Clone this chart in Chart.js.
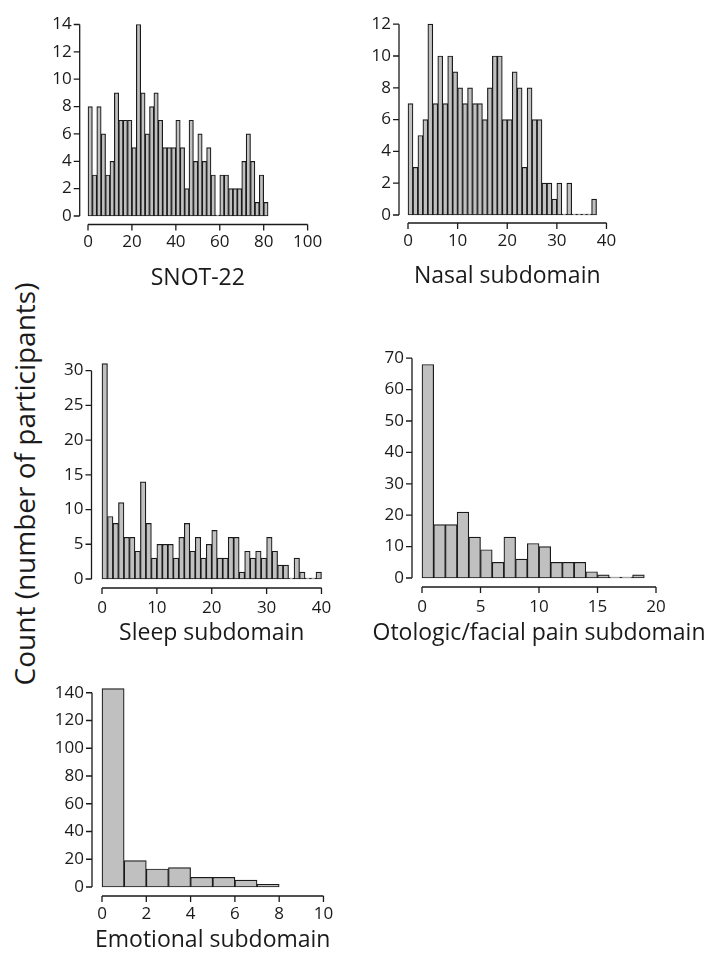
<!DOCTYPE html>
<html>
<head>
<meta charset="utf-8">
<script src="https://cdn.jsdelivr.net/npm/chart.js@4.4.1/dist/chart.umd.min.js"></script>
<style>
  html, body { margin: 0; padding: 0; background: #fff; }
  body { width: 709px; height: 968px; position: relative; overflow: hidden; font-family: "Open Sans", sans-serif; }
  canvas { position: absolute; }
  #yTitle {
    position: absolute; left: 24px; top: 484px;
    transform: translate(-50%, -50%) rotate(-90deg);
    font-size: 28px; white-space: nowrap; color: #1a1a1a;
  }
</style>
</head>
<body>
<div id="yTitle">Count (number of participants)</div>
<canvas id="snot"></canvas>
<canvas id="nasal"></canvas>
<canvas id="sleep"></canvas>
<canvas id="oto"></canvas>
<canvas id="emo"></canvas>
<script>
// SNOT-22 total score, bins of width 2 (bin left edges)
const snotBins = [0, 2, 4, 6, 8, 10, 12, 14, 16, 18, 20, 22, 24, 26, 28, 30, 32, 34, 36, 38,
                  40, 42, 44, 46, 48, 50, 52, 54, 56, 58, 60, 62, 64, 66, 68, 70, 72, 74, 76, 78, 80];
const snotCounts = [8, 3, 8, 6, 3, 4, 9, 7, 7, 7, 5, 14, 9, 6, 8, 9, 7, 5, 5, 5,
                    7, 5, 2, 7, 4, 6, 4, 5, 3, 0, 3, 3, 2, 2, 2, 4, 6, 4, 1, 3, 1];
const snotXTicks = [0, 20, 40, 60, 80, 100];
const snotYTicks = [0, 2, 4, 6, 8, 10, 12, 14];

// Nasal subdomain, bins of width 1
const nasalBins = [0, 1, 2, 3, 4, 5, 6, 7, 8, 9, 10, 11, 12, 13, 14, 15, 16, 17, 18, 19,
                   20, 21, 22, 23, 24, 25, 26, 27, 28, 29, 30, 31, 32, 33, 34, 35, 36, 37];
const nasalCounts = [7, 3, 5, 6, 12, 7, 10, 7, 10, 9, 8, 7, 8, 7, 7, 6, 8, 10, 10, 6,
                     6, 9, 8, 3, 8, 6, 6, 2, 2, 1, 2, 0, 2, 0, 0, 0, 0, 1];
const nasalXTicks = [0, 10, 20, 30, 40];
const nasalYTicks = [0, 2, 4, 6, 8, 10, 12];

// Sleep subdomain
const sleepBins = [0, 1, 2, 3, 4, 5, 6, 7, 8, 9, 10, 11, 12, 13, 14, 15, 16, 17, 18, 19,
                   20, 21, 22, 23, 24, 25, 26, 27, 28, 29, 30, 31, 32, 33, 34, 35, 36, 37, 38, 39];
const sleepCounts = [31, 9, 8, 11, 6, 6, 4, 14, 8, 3, 5, 5, 5, 3, 6, 8, 4, 6, 3, 5,
                     7, 3, 3, 6, 6, 1, 4, 3, 4, 3, 6, 4, 2, 2, 0, 3, 1, 0, 0, 1];
const sleepXTicks = [0, 10, 20, 30, 40];
const sleepYTicks = [0, 5, 10, 15, 20, 25, 30];

// Otologic/facial pain subdomain
const otoBins = [0, 1, 2, 3, 4, 5, 6, 7, 8, 9, 10, 11, 12, 13, 14, 15, 16, 17, 18];
const otoCounts = [68, 17, 17, 21, 13, 9, 5, 13, 6, 11, 10, 5, 5, 5, 2, 1, 0, 0, 1];
const otoXTicks = [0, 5, 10, 15, 20];
const otoYTicks = [0, 10, 20, 30, 40, 50, 60, 70];

// Emotional subdomain
const emoBins = [0, 1, 2, 3, 4, 5, 6, 7];
const emoCounts = [143, 19, 13, 14, 7, 7, 5, 2];
const emoXTicks = [0, 2, 4, 6, 8, 10];
const emoYTicks = [0, 20, 40, 60, 80, 100, 120, 140];

const FONT = '"Open Sans", sans-serif';
const INK = "#1a1a1a";

// R-style detached axes plus the x title
const rAxes = {
    id: "rAxes",
    afterDraw(chart, args, o) {
        const { ctx, chartArea } = chart;
        const xs = chart.scales.x, ys = chart.scales.y;
        const xt = xs.ticks.map(t => t.value);
        const yt = ys.ticks.map(t => t.value);
        ctx.save();
        ctx.strokeStyle = INK;
        ctx.lineWidth = 1.3;
        ctx.beginPath();
        const ay = chartArea.bottom + o.xGap;
        ctx.moveTo(xs.getPixelForValue(xt[0]), ay);
        ctx.lineTo(xs.getPixelForValue(xt[xt.length - 1]), ay);
        xt.forEach(v => {
            const px = xs.getPixelForValue(v);
            ctx.moveTo(px, ay);
            ctx.lineTo(px, ay + 6);
        });
        const ax = chartArea.left - o.yGap;
        ctx.moveTo(ax, ys.getPixelForValue(yt[0]));
        ctx.lineTo(ax, ys.getPixelForValue(yt[yt.length - 1]));
        yt.forEach(v => {
            const py = ys.getPixelForValue(v);
            ctx.moveTo(ax, py);
            ctx.lineTo(ax - 6, py);
        });
        ctx.stroke();

        ctx.fillStyle = INK;
        ctx.font = `23px ${FONT}`;
        ctx.textAlign = "center";
        ctx.textBaseline = "middle";
        ctx.fillText(o.title, (chartArea.left + chartArea.right) / 2, chartArea.bottom + o.titleOff);
        ctx.restore();
    }
};

const Y_W = 60, PAD_T = 12, X_H = 80;

function histogram(id, bins, counts, binW, xTicks, yTicks, xMax, yMax, box) {
    const canvas = document.getElementById(id);
    const w = (box.R - box.L) + Y_W + box.padR;
    const h = (box.B - box.T) + PAD_T + X_H;
    canvas.width = w;
    canvas.height = h;
    canvas.style.left = (box.L - Y_W) + "px";
    canvas.style.top = (box.T - PAD_T) + "px";

    return new Chart(canvas, {
        type: "bar",
        data: {
            datasets: [{
                data: bins.map((b, i) => ({ x: b + binW / 2, y: counts[i] })),
                backgroundColor: "#c0c0c0",
                borderColor: INK,
                borderWidth: 1.2,
                borderSkipped: false,
                minBarLength: 1,
                barPercentage: 1,
                categoryPercentage: 1,
                clip: false
            }]
        },
        options: {
            responsive: false,
            animation: false,
            events: [],
            layout: { padding: { top: PAD_T, right: box.padR, left: 0, bottom: 0 } },
            plugins: {
                legend: { display: false },
                tooltip: { enabled: false },
                rAxes: { xGap: box.xGap, yGap: box.yGap, title: box.title, titleOff: box.titleOff }
            },
            scales: {
                x: {
                    type: "linear",
                    offset: false,
                    min: 0,
                    max: xMax,
                    afterBuildTicks: s => { s.ticks = xTicks.map(v => ({ value: v })); },
                    afterFit: s => { s.height = X_H; },
                    grid: { display: false, drawTicks: false },
                    border: { display: false },
                    ticks: { color: INK, font: { family: FONT, size: 17 }, padding: box.labOff - 10.2, maxRotation: 0, autoSkip: false }
                },
                y: {
                    min: 0,
                    max: yMax,
                    afterBuildTicks: s => { s.ticks = yTicks.map(v => ({ value: v })); },
                    afterFit: s => { s.width = Y_W; },
                    grid: { display: false, drawTicks: false },
                    border: { display: false },
                    ticks: { color: INK, font: { family: FONT, size: 17 }, padding: box.yGap + 8, autoSkip: false }
                }
            }
        },
        plugins: [rAxes]
    });
}

histogram("snot", snotBins, snotCounts, 2, snotXTicks, snotYTicks, 100, 14,
    { L: 88.3, R: 319, T: 9.5, B: 216, padR: 20, xGap: 8.5, yGap: 8.3, labOff: 26, titleOff: 62, title: "SNOT-22" });
histogram("nasal", nasalBins, nasalCounts, 1, nasalXTicks, nasalYTicks, 40, 12,
    { L: 408.3, R: 613.1, T: 9.3, B: 216, padR: 20, xGap: 8, yGap: 9, labOff: 26, titleOff: 61, title: "Nasal subdomain" });
histogram("sleep", sleepBins, sleepCounts, 1, sleepXTicks, sleepYTicks, 40, 31,
    { L: 101.7, R: 330, T: 346.5, B: 579, padR: 20, xGap: 9, yGap: 10.5, labOff: 29, titleOff: 54, title: "Sleep subdomain" });
histogram("oto", otoBins, otoCounts, 1, otoXTicks, otoYTicks, 20, 70,
    { L: 421.5, R: 655.5, T: 342, B: 578, padR: 53, xGap: 9, yGap: 10, labOff: 29, titleOff: 55, title: "Otologic/facial pain subdomain" });
histogram("emo", emoBins, emoCounts, 1, emoXTicks, emoYTicks, 10, 144,
    { L: 102, R: 330, T: 671, B: 887, padR: 20, xGap: 9, yGap: 10, labOff: 27, titleOff: 53, title: "Emotional subdomain" });
</script>
</body>
</html>
